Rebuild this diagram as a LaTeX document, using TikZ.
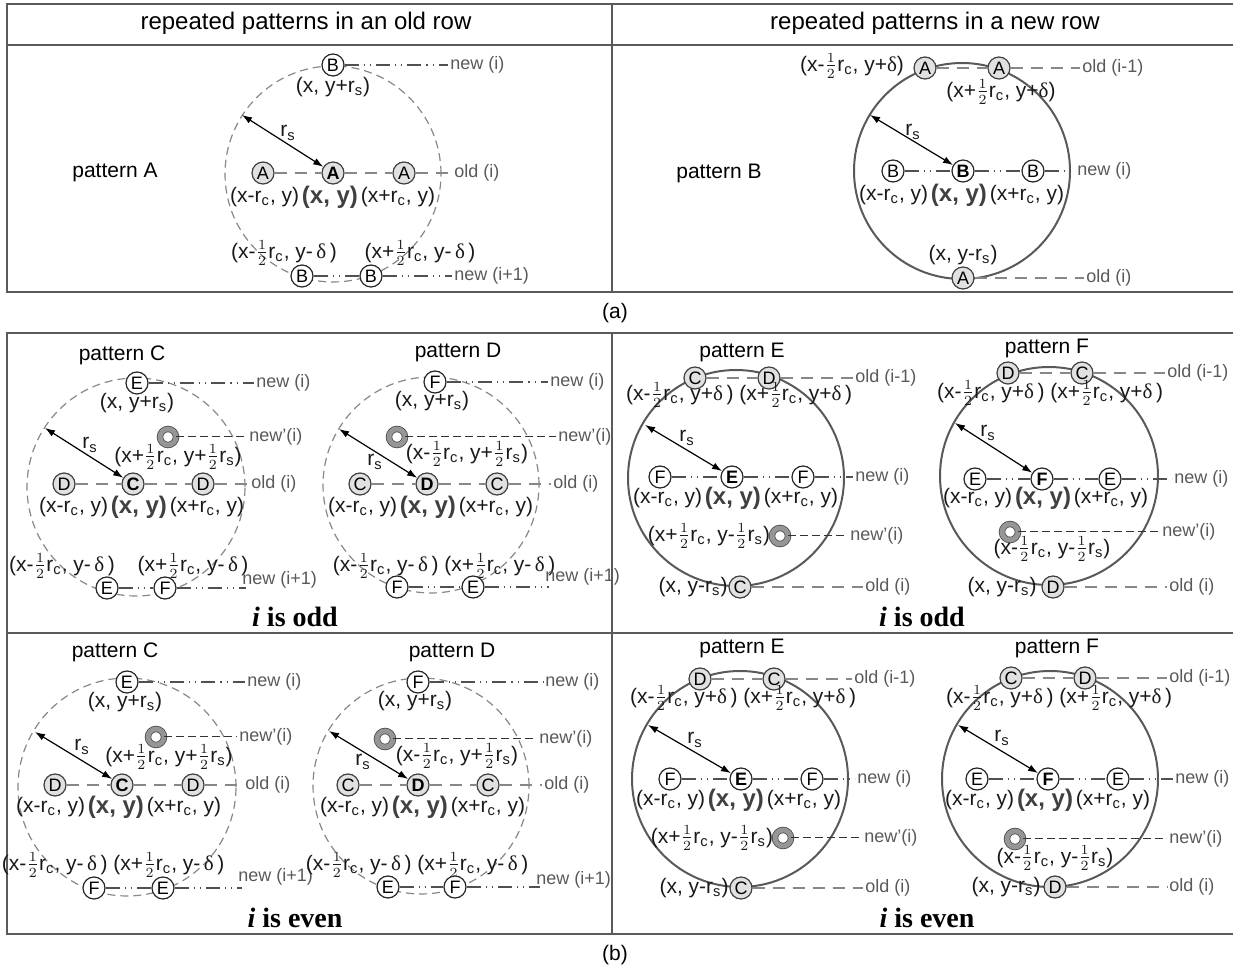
\documentclass[tikz,border=0pt]{standalone}
\usepackage{fontspec}
\setmainfont{Liberation Sans}
\newfontfamily\tnr{Liberation Serif}
\usetikzlibrary{arrows.meta, positioning, calc}
\definecolor{oldgray}{RGB}{135,135,135}
\definecolor{newgray}{RGB}{80,80,80}
\definecolor{fillgray}{RGB}{225,225,225}
\definecolor{ringgray}{RGB}{150,150,150}
\definecolor{framegray}{RGB}{90,90,90}

\newcommand{\rcs}{r\textsubscript{c}}
\newcommand{\rss}{r\textsubscript{s}}
\newcommand{\hlf}{\(\frac{1}{2}\)}
\newcommand{\dlt}{{\tnr δ}}

\tikzset{
  oldnode/.style={circle, draw=black!75, fill=fillgray, line width=0.6pt, inner sep=0pt, minimum size=11pt, font=\fontsize{9}{9}\selectfont},
  newnode/.style={circle, draw=black!85, fill=white, line width=0.6pt, inner sep=0pt, minimum size=11pt, font=\fontsize{9}{9}\selectfont},
  ctrnode/.style={font=\fontsize{9}{9}\selectfont\bfseries},
  ringnode/.style={circle, draw=black!70, line width=0.4pt, double=ringgray, double distance=2.4pt, fill=white, inner sep=0pt, minimum size=8pt},
  lbl/.style={inner sep=0.5pt, font=\fontsize{10.5}{12}\selectfont, text=black!90},
  xylbl/.style={inner sep=0.5pt, font=\fontsize{12}{14}\selectfont\bfseries, text=black!75},
  tag/.style={inner sep=1pt, anchor=west, font=\fontsize{9}{10}\selectfont, text=black!65},
  pname/.style={font=\fontsize{10.5}{12}\selectfont},
  headtxt/.style={font=\fontsize{12}{14}\selectfont},
  parity/.style={font=\tnr\fontsize{14}{16}\selectfont\bfseries},
  oldlink/.style={oldgray, line width=1pt, dash pattern=on 6pt off 4pt},
  newlink/.style={newgray, line width=0.8pt, dash pattern=on 7pt off 2.5pt on 0.6pt off 2.5pt on 0.6pt off 2.5pt},
  primelink/.style={black!80, line width=0.5pt, dash pattern=on 4pt off 2pt},
  oldcircle/.style={oldgray, line width=0.6pt, dash pattern=on 4pt off 2.5pt},
  newcircle/.style={black!65, line width=1pt},
  rsarrow/.style={{Latex[length=5pt,width=3.5pt]}-{Latex[length=5pt,width=3.5pt]}, line width=0.6pt},
  boxline/.style={framegray, line width=1pt}
}

\begin{document}
\begin{tikzpicture}[x=0.5pt, y=-0.5pt]
\useasboundingbox (0,0) rectangle (1233,972);

% frames
\draw[boxline] (1233,4) -- (7,4) -- (7,292) -- (1233,292);
\draw[boxline] (7,45) -- (1233,45);
\draw[boxline] (612,4) -- (612,292);
\draw[boxline] (1233,333) -- (7,333) -- (7,934) -- (1233,934);
\draw[boxline] (7,633) -- (1233,633);
\draw[boxline] (612,333) -- (612,934);

\node[headtxt] at (306,23) {repeated patterns in an old row};
\node[headtxt] at (935,23) {repeated patterns in a new row};
\node[pname] at (615,313) {(a)};
\node[pname] at (615,955) {(b)};

% ---------- pattern A ----------
\draw[oldcircle] (333,174) circle [radius=54pt];
\node[pname] at (115,172) {pattern A};
\node[newnode] (pa-t) at (333,65) {B};
\node[lbl] at (333,87) {(x, y+\rss)};
\node[oldnode] (pa-l) at (263,173) {A};
\node[oldnode, ctrnode] (pa-c) at (333,173) {A};
\node[oldnode] (pa-r) at (404,173) {A};
\node[xylbl] (pa-xy) at (330,197) {(x, y)};
\node[lbl, left=0pt of pa-xy] {(x-\rcs, y)};
\node[lbl, right=0pt of pa-xy] {(x+\rcs, y)};
\node[lbl] at (284,253) {(x-\hlf\rcs, y-\,\dlt\,)};
\node[lbl] at (420,253) {(x+\hlf\rcs, y-\,\dlt\,)};
\node[newnode] (pa-bl) at (302,276) {B};
\node[newnode] (pa-br) at (371,276) {B};
\coordinate (pa-rs) at (242,115);
\node[lbl] at (288,133) {\rss};
\node[tag] (pa-n1) at (448,65) {new (i)};
\node[tag] (pa-o) at (452,173) {old (i)};
\node[tag] (pa-n2) at (452,276) {new (i+1)};
\draw[newlink] (pa-t) -- (pa-t -| pa-n1.west);
\draw[oldlink] (pa-l) -- (pa-c) -- (pa-r) -- (pa-r -| pa-o.west);
\draw[newlink] (pa-bl) -- (pa-br) -- (pa-br -| pa-n2.west);
\draw[rsarrow] (pa-rs) -- (pa-c);

% ---------- pattern B ----------
\draw[newcircle] (962,171) circle [radius=54pt];
\node[pname] at (719,173) {pattern B};
\node[oldnode] (pb-tl) at (925,68) {A};
\node[oldnode] (pb-tr) at (999,68) {A};
\node[lbl] at (852,66) {(x-\hlf\rcs, y+\dlt)};
\node[lbl] at (1001,92) {(x+\hlf\rcs, y+\dlt)};
\node[newnode] (pb-l) at (893,171) {B};
\node[newnode, ctrnode] (pb-c) at (963,171) {B};
\node[newnode] (pb-r) at (1033,171) {B};
\node[xylbl] (pb-xy) at (959,195) {(x, y)};
\node[lbl, left=0pt of pb-xy] {(x-\rcs, y)};
\node[lbl, right=0pt of pb-xy] {(x+\rcs, y)};
\node[lbl] at (963,255) {(x, y-\rss)};
\node[oldnode] (pb-b) at (963,278) {A};
\coordinate (pb-rs) at (870,115);
\node[lbl] at (913,132) {\rss};
\node[tag] (pb-o1) at (1080,68) {old (i-1)};
\node[tag] (pb-n) at (1075,171) {new (i)};
\node[tag] (pb-o2) at (1084,278) {old (i)};
\draw[oldlink] (pb-tl) -- (pb-tr) -- (pb-tr -| pb-o1.west);
\draw[newlink] (pb-l) -- (pb-c) -- (pb-r) -- (pb-r -| pb-n.west);
\draw[oldlink] (pb-b) -- (pb-b -| pb-o2.west);
\draw[rsarrow] (pb-rs) -- (pb-c);

% ---------- pattern C, i odd ----------
\draw[oldcircle] (136,487) circle [radius=54.5pt];
\node[pname] at (122,355) {pattern C};
\node[newnode] (co-t) at (137,383) {E};
\node[lbl] at (137,403) {(x, y+\rss)};
\node[ringnode] (co-p) at (168,437) {};
\node[lbl] at (178,457) {(x+\hlf\rcs, y+\hlf\rss)};
\node[oldnode] (co-l) at (64,484) {D};
\node[oldnode, ctrnode] (co-c) at (133,484) {C};
\node[oldnode] (co-r) at (203,484) {D};
\node[xylbl] (co-xy) at (139,507) {(x, y)};
\node[lbl, left=0pt of co-xy] {(x-\rcs, y)};
\node[lbl, right=0pt of co-xy] {(x+\rcs, y)};
\node[lbl] at (62,566) {(x-\hlf\rcs, y-\,\dlt\,)};
\node[lbl] at (193,566) {(x+\hlf\rcs, y-\,\dlt\,)};
\node[newnode] (co-bl) at (107,588) {E};
\node[newnode] (co-br) at (165,588) {F};
\coordinate (co-rs) at (45,428);
\node[lbl] at (90,445) {\rss};
\node[tag] (co-n1) at (254,383) {new (i)};
\node[tag] (co-np) at (247,437) {new'(i)};
\node[tag] (co-o) at (249,484) {old (i)};
\node[tag] (co-n2) at (240,580) {new (i+1)};
\draw[newlink] (co-t) -- (co-t -| co-n1.west);
\draw[primelink] (co-p) -- (co-p -| co-np.west);
\draw[oldlink] (co-l) -- (co-c) -- (co-r) -- (co-r -| co-o.west);
\draw[newlink] (co-bl) -- (co-br) -- ($(co-br -| co-n2.west)+(6,0)$);
\draw[rsarrow] (co-rs) -- (co-c);

% ---------- pattern D, i odd ----------
\draw[oldcircle] (431,485) circle [radius=54pt];
\node[pname] at (458,352) {pattern D};
\node[newnode] (do-t) at (435,382) {F};
\node[lbl] at (432,401) {(x, y+\rss)};
\node[ringnode] (do-p) at (397,437) {};
\node[lbl] at (467,454) {(x-\hlf\rcs, y+\hlf\rss)};
\node[oldnode] (do-l) at (360,484) {C};
\node[oldnode, ctrnode] (do-c) at (427,484) {D};
\node[oldnode] (do-r) at (497,484) {C};
\node[xylbl] (do-xy) at (428,507) {(x, y)};
\node[lbl, left=0pt of do-xy] {(x-\rcs, y)};
\node[lbl, right=0pt of do-xy] {(x+\rcs, y)};
\node[lbl, anchor=east] (do-dl) at (440,566) {(x-\hlf\rcs, y-\,\dlt\,)};
\node[lbl, right=1.5pt of do-dl] {(x+\hlf\rcs, y-\,\dlt\,)};
\node[newnode] (do-bl) at (397,587) {F};
\node[newnode] (do-br) at (473,587) {E};
\coordinate (do-rs) at (339,429);
\node[lbl] at (375,462) {\rss};
\node[tag] (do-n1) at (548,382) {new (i)};
\node[tag] (do-np) at (556,437) {new'(i)};
\node[tag] (do-o) at (551,484) {old (i)};
\node[tag] (do-n2) at (543,577) {new (i+1)};
\draw[newlink] (do-t) -- (do-t -| do-n1.west);
\draw[primelink] (do-p) -- (do-p -| do-np.west);
\draw[oldlink] (do-l) -- (do-c) -- (do-r) -- (do-r -| do-o.west);
\draw[newlink] (do-bl) -- (do-br) -- ($(do-br -| do-n2.west)+(6,0)$);
\draw[rsarrow] (do-rs) -- (do-c);

\node[parity] at (295,617) {\textit{i} is odd};

% ---------- pattern C, i even ----------
\draw[oldcircle] (127,787) circle [radius=54.5pt];
\node[pname] at (115,652) {pattern C};
\node[newnode] (ce-t) at (127,682) {E};
\node[lbl] at (125,702) {(x, y+\rss)};
\node[ringnode] (ce-p) at (156,737) {};
\node[lbl] at (169,757) {(x+\hlf\rcs, y+\hlf\rss)};
\node[oldnode] (ce-l) at (55,785) {D};
\node[oldnode, ctrnode] (ce-c) at (122,785) {C};
\node[oldnode] (ce-r) at (193,785) {D};
\node[xylbl] (ce-xy) at (116,807) {(x, y)};
\node[lbl, left=0pt of ce-xy] {(x-\rcs, y)};
\node[lbl, right=0pt of ce-xy] {(x+\rcs, y)};
\node[lbl, anchor=east] (ce-dl) at (109,865) {(x-\hlf\rcs, y-\,\dlt\,)};
\node[lbl, right=1.5pt of ce-dl] {(x+\hlf\rcs, y-\,\dlt\,)};
\node[newnode] (ce-bl) at (94,888) {F};
\node[newnode] (ce-br) at (163,888) {E};
\coordinate (ce-rs) at (35,732);
\node[lbl] at (82,747) {\rss};
\node[tag] (ce-n1) at (245,682) {new (i)};
\node[tag] (ce-np) at (237,737) {new'(i)};
\node[tag] (ce-o) at (243,785) {old (i)};
\node[tag] (ce-n2) at (236,877) {new (i+1)};
\draw[newlink] (ce-t) -- (ce-t -| ce-n1.west);
\draw[primelink] (ce-p) -- (ce-p -| ce-np.west);
\draw[oldlink] (ce-l) -- (ce-c) -- (ce-r) -- (ce-r -| ce-o.west);
\draw[newlink] (ce-bl) -- (ce-br) -- ($(ce-br -| ce-n2.west)+(6,0)$);
\draw[rsarrow] (ce-rs) -- (ce-c);

% ---------- pattern D, i even ----------
\draw[oldcircle] (421,786) circle [radius=54pt];
\node[pname] at (452,652) {pattern D};
\node[newnode] (de-t) at (418,682) {F};
\node[lbl] at (415,701) {(x, y+\rss)};
\node[ringnode] (de-p) at (385,739) {};
\node[lbl] at (457,756) {(x-\hlf\rcs, y+\hlf\rss)};
\node[oldnode] (de-l) at (348,785) {C};
\node[oldnode, ctrnode] (de-c) at (418,785) {D};
\node[oldnode] (de-r) at (488,785) {C};
\node[xylbl] (de-xy) at (420,807) {(x, y)};
\node[lbl, left=0pt of de-xy] {(x-\rcs, y)};
\node[lbl, right=0pt of de-xy] {(x+\rcs, y)};
\node[lbl, anchor=east] (de-dl) at (413,865) {(x-\hlf\rcs, y-\,\dlt\,)};
\node[lbl, right=1.5pt of de-dl] {(x+\hlf\rcs, y-\,\dlt\,)};
\node[newnode] (de-bl) at (388,887) {E};
\node[newnode] (de-br) at (455,887) {F};
\coordinate (de-rs) at (329,731);
\node[lbl] at (363,762) {\rss};
\node[tag] (de-n1) at (543,682) {new (i)};
\node[tag] (de-np) at (537,739) {new'(i)};
\node[tag] (de-o) at (542,785) {old (i)};
\node[tag] (de-n2) at (534,880) {new (i+1)};
\draw[newlink] (de-t) -- (de-t -| de-n1.west);
\draw[primelink] (de-p) -- (de-p -| de-np.west);
\draw[oldlink] (de-l) -- (de-c) -- (de-r) -- (de-r -| de-o.west);
\draw[newlink] (de-bl) -- (de-br) -- ($(de-br -| de-n2.west)+(6,0)$);
\draw[rsarrow] (de-rs) -- (de-c);

\node[parity] at (295,918) {\textit{i} is even};

% ---------- pattern E, i odd ----------
\draw[newcircle] (736,478) circle [radius=54pt];
\node[pname] at (742,352) {pattern E};
\node[oldnode] (eo-tl) at (695,378) {C};
\node[oldnode] (eo-tr) at (769,378) {D};
\node[lbl, anchor=east] (eo-ul) at (735,395) {(x-\hlf\rcs, y+\dlt\,)};
\node[lbl, right=1.5pt of eo-ul] {(x+\hlf\rcs, y+\dlt\,)};
\node[newnode] (eo-l) at (660,477) {F};
\node[newnode, ctrnode] (eo-c) at (732,477) {E};
\node[newnode] (eo-r) at (803,477) {F};
\node[xylbl] (eo-xy) at (733,498) {(x, y)};
\node[lbl, left=0pt of eo-xy] {(x-\rcs, y)};
\node[lbl, right=0pt of eo-xy] {(x+\rcs, y)};
\node[lbl] at (709,536) {(x+\hlf\rcs, y-\hlf\rss)};
\node[ringnode] (eo-p) at (780,536) {};
\node[lbl] at (693,587) {(x, y-\rss)};
\node[oldnode] (eo-b) at (740,587) {C};
\coordinate (eo-rs) at (645,425);
\node[lbl] at (687,438) {\rss};
\node[tag] (eo-o1) at (853,378) {old (i-1)};
\node[tag] (eo-n) at (853,477) {new (i)};
\node[tag] (eo-np) at (848,536) {new'(i)};
\node[tag] (eo-o2) at (863,587) {old (i)};
\draw[oldlink] (eo-tl) -- (eo-tr) -- (eo-tr -| eo-o1.west);
\draw[newlink] (eo-l) -- (eo-c) -- (eo-r) -- (eo-r -| eo-n.west);
\draw[primelink] (eo-p) -- (eo-p -| eo-np.west);
\draw[oldlink] (eo-b) -- (eo-b -| eo-o2.west);
\draw[rsarrow] (eo-rs) -- (eo-c);

% ---------- pattern F, i odd ----------
\draw[newcircle] (1049,476) circle [radius=54.5pt];
\node[pname] at (1047,348) {pattern F};
\node[oldnode] (fo-tl) at (1008,373) {D};
\node[oldnode] (fo-tr) at (1082,373) {C};
\node[lbl, anchor=east] (fo-ul) at (1046,393) {(x-\hlf\rcs, y+\dlt\,)};
\node[lbl, right=1.5pt of fo-ul] {(x+\hlf\rcs, y+\dlt\,)};
\node[newnode] (fo-l) at (975,479) {E};
\node[newnode, ctrnode] (fo-c) at (1042,479) {F};
\node[newnode] (fo-r) at (1110,479) {E};
\node[xylbl] (fo-xy) at (1043,498) {(x, y)};
\node[lbl, left=0pt of fo-xy] {(x-\rcs, y)};
\node[lbl, right=0pt of fo-xy] {(x+\rcs, y)};
\node[ringnode] (fo-p) at (1010,532) {};
\node[lbl] at (1052,549) {(x-\hlf\rcs, y-\hlf\rss)};
\node[lbl] at (1002,587) {(x, y-\rss)};
\node[oldnode] (fo-b) at (1053,587) {D};
\coordinate (fo-rs) at (955,423);
\node[lbl] at (988,433) {\rss};
\node[tag] (fo-o1) at (1165,373) {old (i-1)};
\node[tag] (fo-n) at (1172,479) {new (i)};
\node[tag] (fo-np) at (1160,532) {new'(i)};
\node[tag] (fo-o2) at (1167,587) {old (i)};
\draw[oldlink] (fo-tl) -- (fo-tr) -- (fo-tr -| fo-o1.west);
\draw[newlink] (fo-l) -- (fo-c) -- (fo-r) -- (fo-r -| fo-n.west);
\draw[primelink] (fo-p) -- (fo-p -| fo-np.west);
\draw[oldlink] (fo-b) -- (fo-b -| fo-o2.west);
\draw[rsarrow] (fo-rs) -- (fo-c);

\node[parity] at (922,617) {\textit{i} is odd};

% ---------- pattern E, i even ----------
\draw[newcircle] (740,779) circle [radius=54pt];
\node[pname] at (742,648) {pattern E};
\node[oldnode] (ee-tl) at (700,679) {D};
\node[oldnode] (ee-tr) at (774,679) {C};
\node[lbl, anchor=east] (ee-ul) at (739,698) {(x-\hlf\rcs, y+\dlt\,)};
\node[lbl, right=1.5pt of ee-ul] {(x+\hlf\rcs, y+\dlt\,)};
\node[newnode] (ee-l) at (670,779) {F};
\node[newnode, ctrnode] (ee-c) at (741,779) {E};
\node[newnode] (ee-r) at (812,779) {F};
\node[xylbl] (ee-xy) at (736,800) {(x, y)};
\node[lbl, left=0pt of ee-xy] {(x-\rcs, y)};
\node[lbl, right=0pt of ee-xy] {(x+\rcs, y)};
\node[lbl] at (712,838) {(x+\hlf\rcs, y-\hlf\rss)};
\node[ringnode] (ee-p) at (783,838) {};
\node[lbl] at (694,888) {(x, y-\rss)};
\node[oldnode] (ee-b) at (741,888) {C};
\coordinate (ee-rs) at (648,725);
\node[lbl] at (695,740) {\rss};
\node[tag] (ee-o1) at (852,679) {old (i-1)};
\node[tag] (ee-n) at (855,779) {new (i)};
\node[tag] (ee-np) at (862,838) {new'(i)};
\node[tag] (ee-o2) at (863,888) {old (i)};
\draw[oldlink] (ee-tl) -- (ee-tr) -- (ee-tr -| ee-o1.west);
\draw[newlink] (ee-l) -- (ee-c) -- (ee-r) -- (ee-r -| ee-n.west);
\draw[primelink] (ee-p) -- (ee-p -| ee-np.west);
\draw[oldlink] (ee-b) -- (ee-b -| ee-o2.west);
\draw[rsarrow] (ee-rs) -- (ee-c);

% ---------- pattern F, i even ----------
\draw[newcircle] (1050,779) circle [radius=54pt];
\node[pname] at (1057,648) {pattern F};
\node[oldnode] (fe-tl) at (1011,678) {C};
\node[oldnode] (fe-tr) at (1085,678) {D};
\node[lbl, anchor=east] (fe-ul) at (1055,698) {(x-\hlf\rcs, y+\dlt\,)};
\node[lbl, right=1.5pt of fe-ul] {(x+\hlf\rcs, y+\dlt\,)};
\node[newnode] (fe-l) at (977,779) {E};
\node[newnode, ctrnode] (fe-c) at (1048,779) {F};
\node[newnode] (fe-r) at (1118,779) {E};
\node[xylbl] (fe-xy) at (1045,800) {(x, y)};
\node[lbl, left=0pt of fe-xy] {(x-\rcs, y)};
\node[lbl, right=0pt of fe-xy] {(x+\rcs, y)};
\node[ringnode] (fe-p) at (1015,839) {};
\node[lbl] at (1055,858) {(x-\hlf\rcs, y-\hlf\rss)};
\node[lbl] at (1006,887) {(x, y-\rss)};
\node[oldnode] (fe-b) at (1055,887) {D};
\coordinate (fe-rs) at (958,725);
\node[lbl] at (1002,738) {\rss};
\node[tag] (fe-o1) at (1167,678) {old (i-1)};
\node[tag] (fe-n) at (1173,779) {new (i)};
\node[tag] (fe-np) at (1167,839) {new'(i)};
\node[tag] (fe-o2) at (1167,887) {old (i)};
\draw[oldlink] (fe-tl) -- (fe-tr) -- (fe-tr -| fe-o1.west);
\draw[newlink] (fe-l) -- (fe-c) -- (fe-r) -- (fe-r -| fe-n.west);
\draw[primelink] (fe-p) -- (fe-p -| fe-np.west);
\draw[oldlink] (fe-b) -- (fe-b -| fe-o2.west);
\draw[rsarrow] (fe-rs) -- (fe-c);

\node[parity] at (927,918) {\textit{i} is even};
\end{tikzpicture}
\end{document}
